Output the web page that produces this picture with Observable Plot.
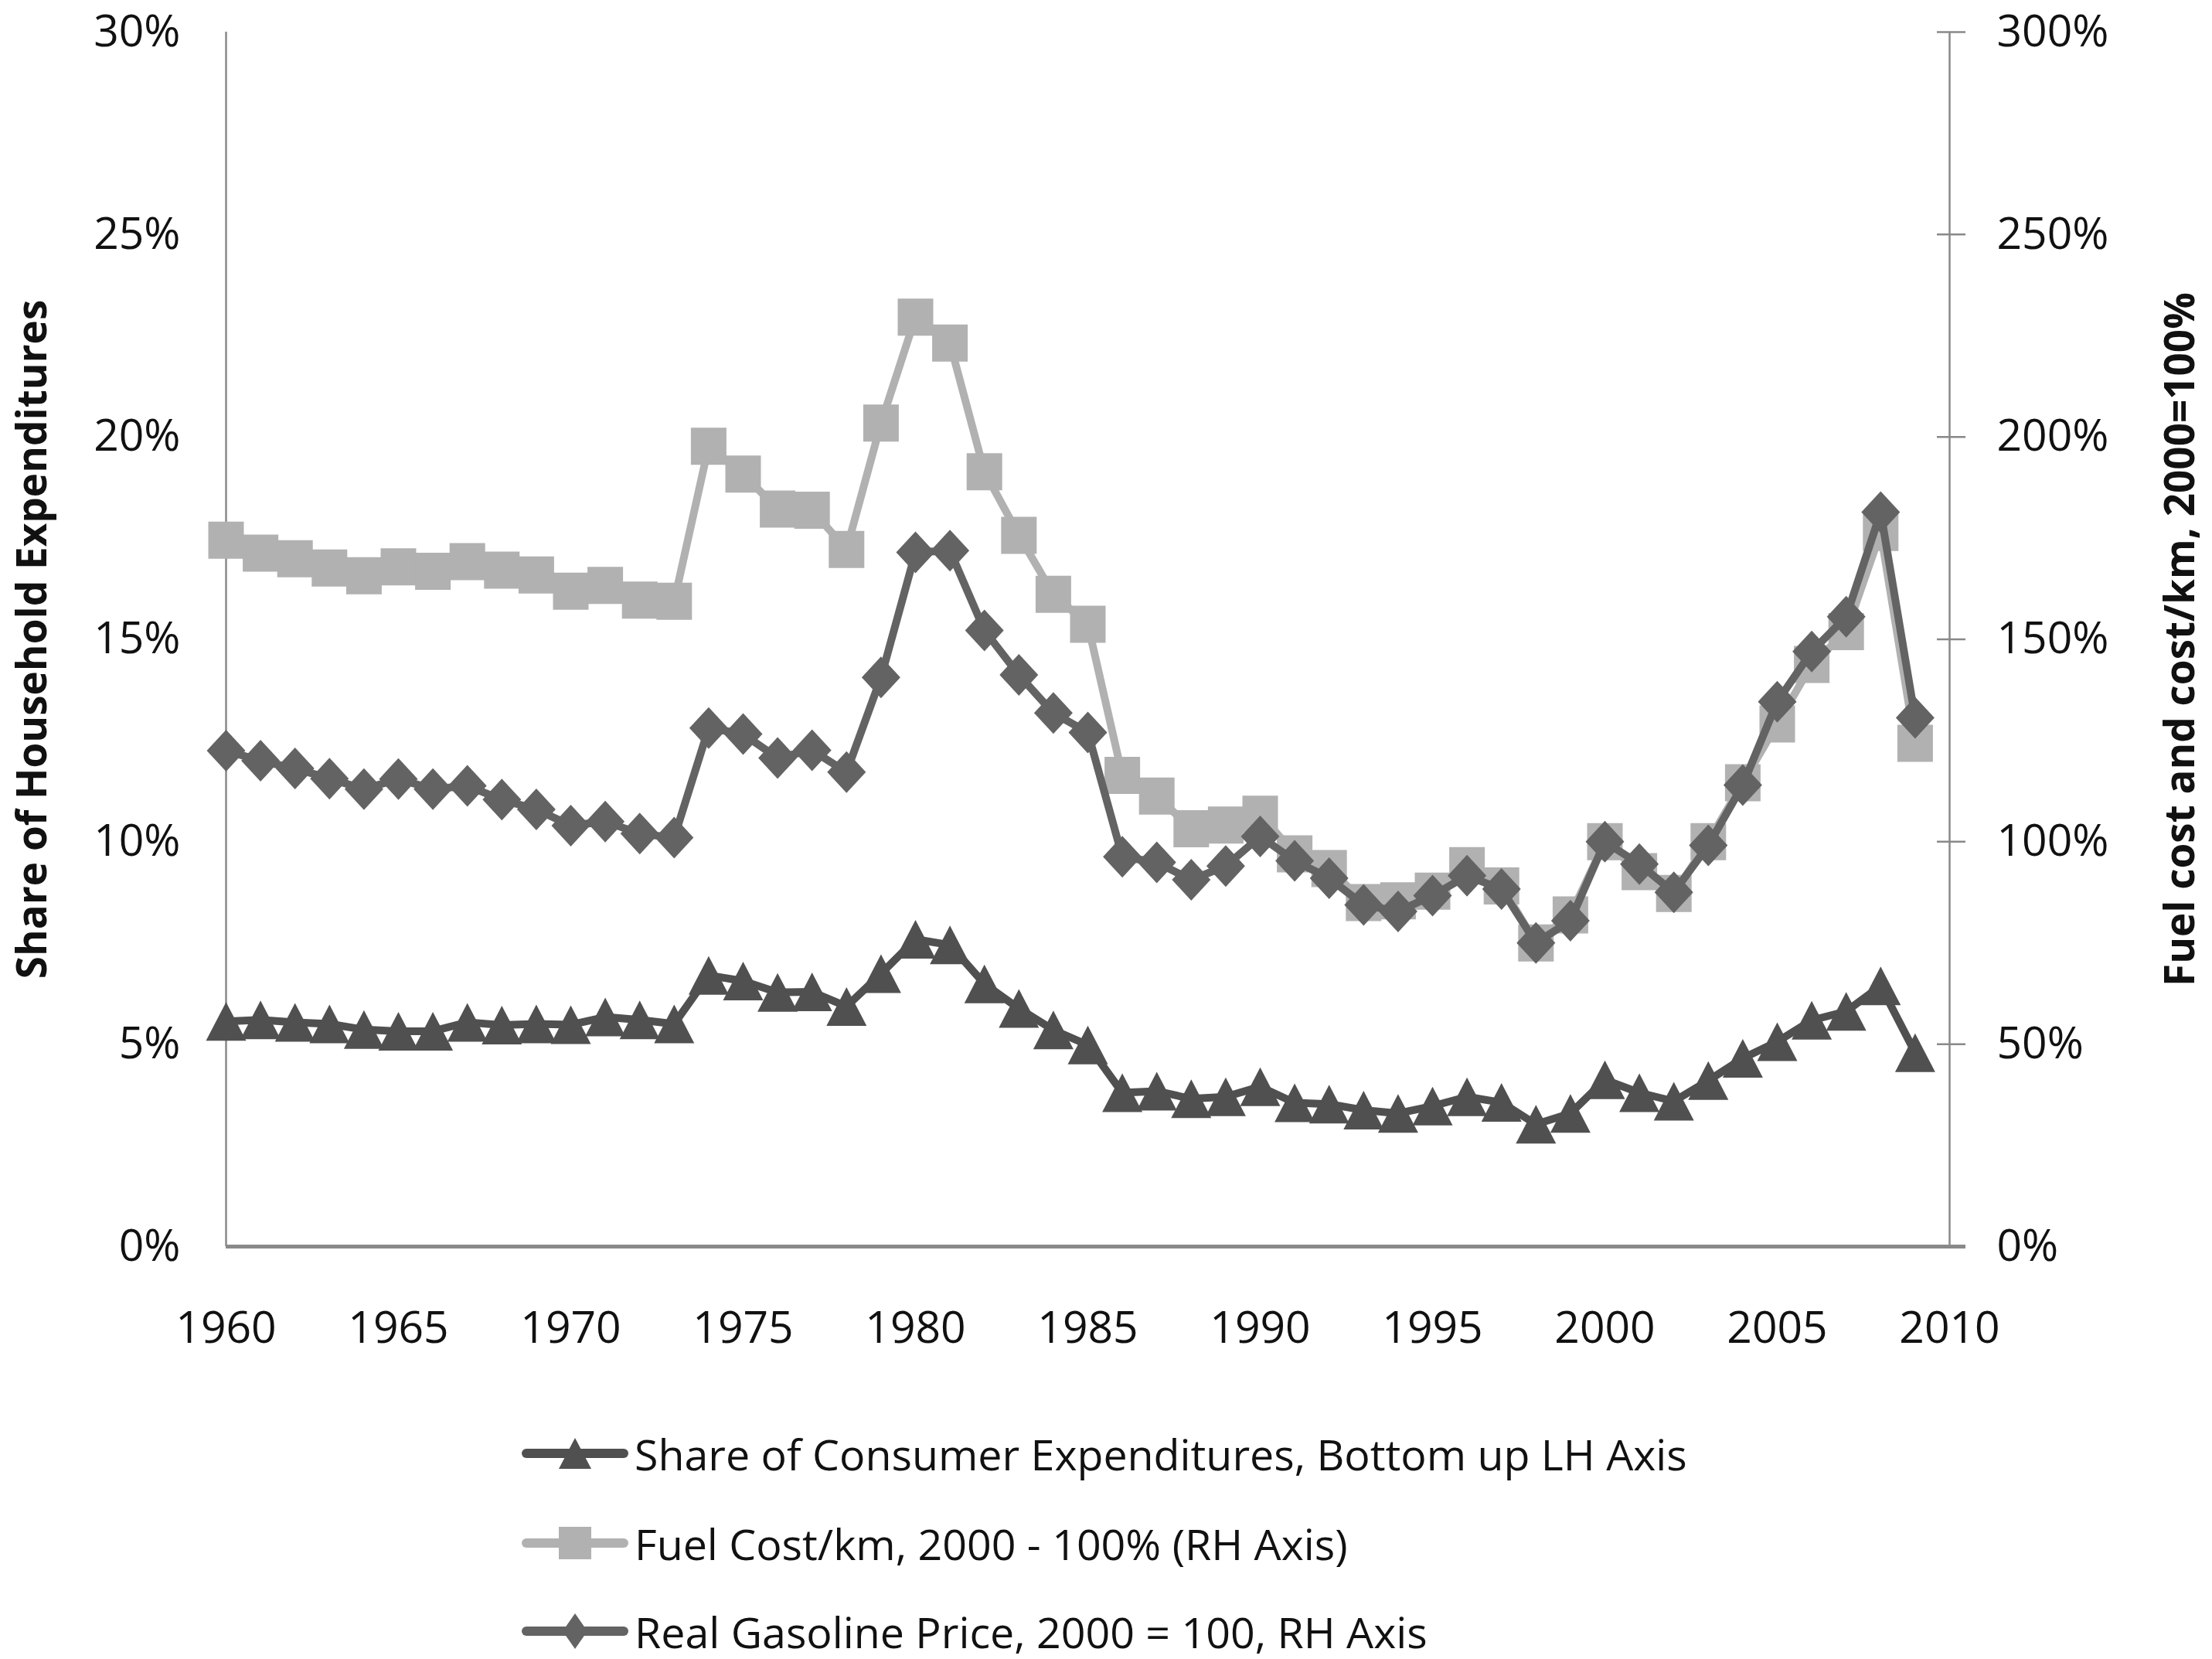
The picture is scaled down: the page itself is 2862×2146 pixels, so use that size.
<!DOCTYPE html>
<html>
<head>
<meta charset="utf-8">
<script src="https://cdn.jsdelivr.net/npm/d3@7"></script>
<script src="https://cdn.jsdelivr.net/npm/@observablehq/plot@0.6"></script>
<style>
  html, body { margin: 0; padding: 0; background: #fff; }
  body { width: 2862px; height: 2146px; overflow: hidden; font-family: "Open Sans", sans-serif; color: #111; }
  #legend { position: relative; width: 2862px; height: 356px; }
  .row { position: absolute; left: 675px; height: 60px; display: flex; align-items: center; font-size: 55.5px; white-space: nowrap; }
  .row svg { flex: none; margin-right: 6px; }
</style>
</head>
<body>
<div id="chart"></div>
<div id="legend"></div>
<script>
// ---------- data ----------
const years = [1960,1961,1962,1963,1964,1965,1966,1967,1968,1969,
               1970,1971,1972,1973,1974,1975,1976,1977,1978,1979,
               1980,1981,1982,1983,1984,1985,1986,1987,1988,1989,
               1990,1991,1992,1993,1994,1995,1996,1997,1998,1999,
               2000,2001,2002,2003,2004,2005,2006,2007,2008,2009];

// Share of Consumer Expenditures (LH axis, %)
const shareConsumer = [5.56,5.60,5.54,5.50,5.36,5.32,5.32,5.54,5.47,5.50,
                       5.48,5.67,5.60,5.50,6.70,6.56,6.28,6.29,5.93,6.74,
                       7.59,7.45,6.49,5.88,5.35,4.98,3.80,3.84,3.65,3.70,
                       3.95,3.55,3.52,3.37,3.29,3.47,3.70,3.56,3.02,3.29,
                       4.12,3.80,3.59,4.10,4.65,5.06,5.59,5.81,6.44,4.79];

// Fuel Cost/km, 2000 = 100% (RH axis, %)
const fuelCostKm = [174.5,171.3,169.9,167.6,165.7,167.9,166.8,169.2,167.1,165.9,
                    161.9,163.3,159.7,159.4,197.7,190.8,182.2,181.9,172.2,203.4,
                    229.6,223.2,191.4,175.7,161.1,153.7,116.4,111.3,103.2,104.1,
                    106.8,97.0,93.4,85.0,85.4,87.8,94.1,89.1,75.0,81.9,
                    100.0,92.6,87.2,100.0,114.6,129.1,143.8,151.9,176.4,124.3];

// Real Gasoline Price, 2000 = 100 (RH axis)
const realGasoline = [122.5,120.0,118.1,115.6,113.0,115.5,113.0,113.8,110.4,108.0,
                      104.0,105.0,102.0,101.0,128.1,126.6,120.7,122.6,117.2,140.6,
                      171.5,171.9,152.2,141.2,131.8,127.0,96.3,94.9,90.6,94.0,
                      101.3,95.3,91.0,84.4,82.8,86.7,91.6,88.3,75.0,80.5,
                      100.0,94.5,87.5,99.1,114.0,134.6,147.0,155.6,181.4,130.6];

const xTicks = [1960,1965,1970,1975,1980,1985,1990,1995,2000,2005,2010];
const leftTicks = [0,5,10,15,20,25,30];          // % share
const rightTicks = [0,50,100,150,200,250,300];  // % index

const leftTitle = "Share of Household Expenditures";
const rightTitle = "Fuel cost and cost/km, 2000=100%";
const legendLabels = [
  "Share of Consumer Expenditures, Bottom up LH Axis",
  "Fuel Cost/km, 2000 - 100% (RH Axis)",
  "Real Gasoline Price, 2000 = 100, RH Axis"
];

// ---------- styles ----------
const triColor = "#505050", sqColor = "#b1b1b1", diaColor = "#636363", axisColor = "#898989";
const lineW = 10;
const RIGHT_FACTOR = 10; // RH axis 300% <-> LH axis 30%

const triangleSym = { draw(ctx) { ctx.moveTo(0, -25); ctx.lineTo(26, 25); ctx.lineTo(-26, 25); ctx.closePath(); } };
const squareSym   = { draw(ctx) { ctx.rect(-23, -24, 46, 48); } };
const diamondSym  = { draw(ctx) { ctx.moveTo(0, -27); ctx.lineTo(25, 0); ctx.lineTo(0, 27); ctx.lineTo(-25, 0); ctx.closePath(); } };

const rows = years.map((year, i) => ({
  year,
  share: shareConsumer[i],
  fuel: fuelCostKm[i] / RIGHT_FACTOR,
  gas: realGasoline[i] / RIGHT_FACTOR
}));

const W = 2862, H = 1790;
const chart = Plot.plot({
  width: W,
  height: H,
  marginLeft: 292,
  marginRight: 340,
  marginTop: 41,
  marginBottom: H - 1612,
  x: { domain: [1960, 2010], axis: null },
  y: { domain: [0, 30], axis: null },
  style: { fontFamily: "'Open Sans', sans-serif", fontSize: "57px", color: "#111", background: "#fff", overflow: "visible" },
  marks: [
    Plot.ruleX([1960], { stroke: axisColor, strokeWidth: 2.5 }),
    Plot.ruleX([2010], { stroke: axisColor, strokeWidth: 2.5 }),
    Plot.ruleY(rightTicks, { y: d => d / RIGHT_FACTOR, x1: 2010, x2: 2010, insetLeft: -16, insetRight: -21, stroke: axisColor, strokeWidth: 2.5 }),
    Plot.ruleY([0], { stroke: axisColor, strokeWidth: 5, insetRight: -21 }),
    Plot.axisY(leftTicks, { anchor: "left", label: null, tickSize: 0, tickPadding: 59, tickFormat: d => d + "%", fill: "#111" }),
    Plot.axisY(leftTicks, { anchor: "right", label: null, tickSize: 0, tickPadding: 61, tickFormat: d => (d * RIGHT_FACTOR) + "%", fill: "#111" }),
    Plot.axisX(xTicks, { anchor: "bottom", label: null, tickSize: 0, tickPadding: 84, tickFormat: d => String(d), fill: "#111" }),

    Plot.line(rows, { x: "year", y: "share", stroke: triColor, strokeWidth: lineW }),
    Plot.dot(rows, { x: "year", y: "share", symbol: triangleSym, fill: triColor, stroke: "none", r: 5 }),

    Plot.line(rows, { x: "year", y: "fuel", stroke: sqColor, strokeWidth: lineW }),
    Plot.dot(rows, { x: "year", y: "fuel", symbol: squareSym, fill: sqColor, stroke: "none", r: 5 }),

    Plot.line(rows, { x: "year", y: "gas", stroke: diaColor, strokeWidth: lineW }),
    Plot.dot(rows, { x: "year", y: "gas", symbol: diamondSym, fill: diaColor, stroke: "none", r: 5 }),

    Plot.text([leftTitle], { text: d => d, frameAnchor: "left", textAnchor: "middle", rotate: -90, dx: -249, fontWeight: "bold", fontSize: 53, fill: "#111" }),
    Plot.text([rightTitle], { text: d => d, frameAnchor: "right", textAnchor: "middle", rotate: -90, dx: 300, fontWeight: "bold", fontSize: 53, fill: "#111" })
  ]
});
document.getElementById("chart").appendChild(chart);

// ---------- legend ----------
const legendItems = [
  { label: legendLabels[0], color: triColor, shape: "triangle" },
  { label: legendLabels[1], color: sqColor, shape: "square" },
  { label: legendLabels[2], color: diaColor, shape: "diamond" }
];
const rowCenters = [90, 206, 320];
const legend = d3.select("#legend");
legendItems.forEach((it, i) => {
  const row = legend.append("div").attr("class", "row").style("top", (rowCenters[i] - 30) + "px");
  const s = row.append("svg").attr("width", 140).attr("height", 60);
  s.append("line").attr("x1", 6).attr("x2", 132).attr("y1", 30).attr("y2", 30)
    .attr("stroke", it.color).attr("stroke-width", 12).attr("stroke-linecap", "round");
  const cx = 69, cy = 30;
  if (it.shape === "triangle") s.append("path").attr("d", `M${cx},${cy-20}L${cx+21},${cy+20}L${cx-21},${cy+20}Z`).attr("fill", it.color);
  if (it.shape === "square") s.append("rect").attr("x", cx-21).attr("y", cy-21).attr("width", 42).attr("height", 42).attr("fill", it.color);
  if (it.shape === "diamond") s.append("path").attr("d", `M${cx},${cy-23}L${cx+16},${cy}L${cx},${cy+23}L${cx-16},${cy}Z`).attr("fill", it.color);
  row.append("span").text(it.label);
});
</script>
</body>
</html>
